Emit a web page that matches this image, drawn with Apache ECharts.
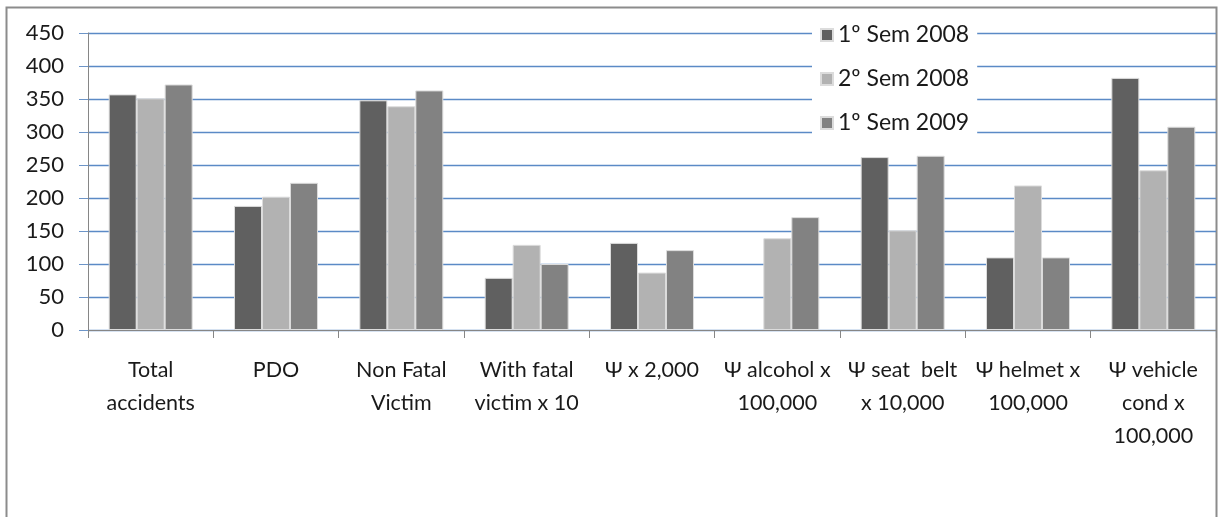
<!DOCTYPE html>
<html>
<head>
<meta charset="utf-8">
<script src="https://cdn.jsdelivr.net/npm/echarts@6/dist/echarts.min.js"></script>
<style>html,body{margin:0;padding:0;background:#fff}#c{width:1219px;height:517px}</style>
</head>
<body>
<div id="c"></div>
<script>
const categories = ["Total\naccidents", "PDO", "Non Fatal\nVictim", "With fatal\nvictim x 10", "Ψ x 2,000", "Ψ alcohol x\n100,000", "Ψ seat  belt\nx 10,000", "Ψ helmet x\n100,000", "Ψ vehicle\ncond x\n100,000"];
const seriesNames = ["1º Sem 2008", "2º Sem 2008", "1º Sem 2009"];
const sem1_2008 = [357, 188, 348, 79, 132, null, 262, 110, 382];
const sem2_2008 = [351, 202, 339, 129, 87, 139, 151, 219, 242];
const sem1_2009 = [372, 223, 363, 100, 121, 171, 264, 110, 308];
const yTicks = { min: 0, max: 450, interval: 50 };

const colors = ["#606060", "#b2b2b2", "#828282"];
const font = "Lato, 'Open Sans', sans-serif";
const chart = echarts.init(document.getElementById('c'));
const mk = (name, data, i) => ({
  name, type: 'bar', data, barGap: '0%', barCategoryGap: '33%',
  itemStyle: { color: colors[i], borderColor: '#dcdcdc', borderWidth: 1 },
  emphasis: { disabled: true }, animation: false
});
chart.setOption({
  animation: false,
  textStyle: { fontFamily: font },
  graphic: [{
    type: 'rect', z: -10, silent: true,
    shape: { x: 6.5, y: 7.5, width: 1210, height: 540 },
    style: { fill: 'none', stroke: '#8c8c8c', lineWidth: 2 }
  }],
  grid: { left: 88, right: 3, top: 33, bottom: 187, containLabel: false },
  legend: {
    orient: 'vertical', left: 812, top: 19,
    backgroundColor: '#ffffff', padding: [4, 8, 6, 8],
    itemWidth: 12, itemHeight: 12, itemGap: 20,
    icon: 'rect',
    textStyle: { fontFamily: font, fontSize: 23, color: '#1a1a1a', lineHeight: 24 },
    data: seriesNames
  },
  xAxis: {
    type: 'category', data: categories,
    axisLine: { lineStyle: { color: '#868686', width: 1 } },
    axisTick: { show: true, length: 8, lineStyle: { color: '#868686' } },
    axisLabel: { interval: 0, fontSize: 21.5, color: '#1a1a1a', lineHeight: 33, margin: 24, fontFamily: font }
  },
  yAxis: {
    type: 'value', min: yTicks.min, max: yTicks.max, interval: yTicks.interval,
    axisLine: { show: true, lineStyle: { color: '#868686' } },
    axisTick: { show: true, length: 9, lineStyle: { color: '#6d95c8' } },
    axisLabel: { fontSize: 22, color: '#1a1a1a', margin: 24, fontFamily: font },
    splitLine: { lineStyle: { color: '#5b8ac6', width: 1.3 } }
  },
  series: [mk(seriesNames[0], sem1_2008, 0), mk(seriesNames[1], sem2_2008, 1), mk(seriesNames[2], sem1_2009, 2)]
});
</script>
</body>
</html>
